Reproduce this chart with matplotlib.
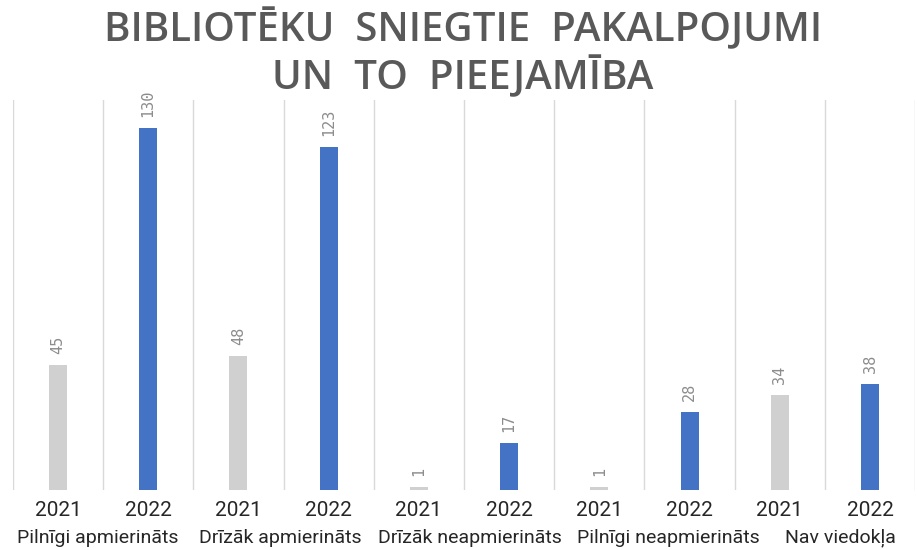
import matplotlib.pyplot as plt
import numpy as np

categories = ["Pilnīgi apmierināts", "Drīzāk apmierināts", "Drīzāk neapmierināts",
              "Pilnīgi neapmierināts", "Nav viedokļa"]
years = ["2021", "2022"]
values_2021 = [45, 48, 1, 1, 34]
values_2022 = [130, 123, 17, 28, 38]

title_lines = ["BIBLIOTĒKU  SNIEGTIE  PAKALPOJUMI", "UN  TO  PIEEJAMĪBA"]

# category labels are not exactly centred under their pair in the original
label_shift = [-0.06, -0.04, 0.07, 0.27, 0.17]

fig = plt.figure(figsize=(9.17, 5.5), dpi=100)
ax = fig.add_axes([0.014, 0.109, 0.984, 0.709])

# interleave: 2021, 2022 for each category
vals = []
cols = []
ticklabels = []
for a, b in zip(values_2021, values_2022):
    vals += [a, b]
    cols += ["#D0D0D0", "#4472C4"]
    ticklabels += years
x = np.arange(len(vals))

ax.bar(x, vals, width=0.2, color=cols)
for xi, v in zip(x, vals):
    ax.annotate(str(v), (xi, v), xytext=(0, 8), textcoords="offset points",
                rotation=90, ha="center", va="bottom", fontsize=11,
                color="#8C8C8C", family="DejaVu Sans Mono")

ax.set_xlim(-0.5, len(vals) - 0.5)
ax.set_ylim(0, 140)
ax.set_yticks([])
ax.set_xticks(x)
ax.set_xticklabels(ticklabels, fontsize=15, color="#262626", family="Roboto")
ax.tick_params(axis="x", length=0, pad=8)
ax.set_xticks(np.arange(len(vals) + 1) - 0.5, minor=True)
ax.tick_params(axis="x", which="minor", length=0)
ax.grid(axis="x", which="minor", color="#D9D9D9", linewidth=1)
ax.grid(axis="x", which="major", visible=False)
for s in ax.spines.values():
    s.set_visible(False)

for i, c in enumerate(categories):
    ax.text(2 * i + 0.5 + label_shift[i], -0.122, c,
            transform=ax.get_xaxis_transform(),
            ha="center", va="center", fontsize=14, color="#262626",
            family="Roboto")

fig.text(0.505, 0.946, title_lines[0], ha="center", va="center", fontsize=29,
         fontweight="semibold", color="#595959", family="Open Sans")
fig.text(0.505, 0.859, title_lines[1], ha="center", va="center", fontsize=29,
         fontweight="semibold", color="#595959", family="Open Sans")

fig.savefig("out.png", dpi=100)
